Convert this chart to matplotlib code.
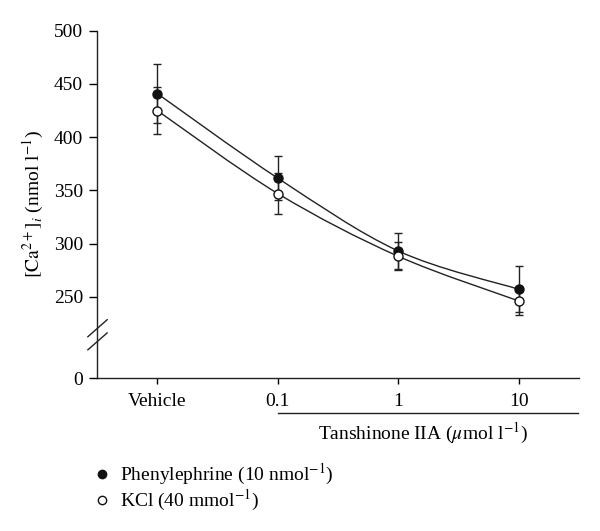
import numpy as np
import matplotlib.pyplot as plt
from matplotlib.path import Path
from matplotlib.patches import PathPatch
from matplotlib.lines import Line2D

plt.rcParams['font.family'] = 'Liberation Serif'
plt.rcParams['mathtext.fontset'] = 'stix'
plt.rcParams['font.size'] = 14

# Data
groups = ['Vehicle', '0.1', '1', '10']
phe_mean = [441, 361.5, 293, 257]
phe_err = [28, 21, 17, 21.5]
kcl_mean = [425, 347, 288, 246]
kcl_err = [22, 19.5, 13, 13]
yticks = [250, 300, 350, 400, 450, 500]
y_bottom = 173.5  # value shown as "0" below the axis break


def smooth_path(x, y):
    # Catmull-Rom style cubic bezier through the points
    x = np.asarray(x, float)
    y = np.asarray(y, float)
    verts = [(x[0], y[0])]
    codes = [Path.MOVETO]
    n = len(x)
    for i in range(n - 1):
        p0 = (x[max(i - 1, 0)], y[max(i - 1, 0)])
        p1 = (x[i], y[i])
        p2 = (x[i + 1], y[i + 1])
        p3 = (x[min(i + 2, n - 1)], y[min(i + 2, n - 1)])
        c1 = (p1[0] + (p2[0] - p0[0]) / 6, p1[1] + (p2[1] - p0[1]) / 6)
        c2 = (p2[0] - (p3[0] - p1[0]) / 6, p2[1] - (p3[1] - p1[1]) / 6)
        verts += [c1, c2, p2]
        codes += [Path.CURVE4] * 3
    return Path(verts, codes)


fig = plt.figure(figsize=(6, 5.31), dpi=100)
ax = fig.add_axes([0.1617, 0.288, 0.8033, 0.654])

x = np.arange(len(groups))

for mean in (phe_mean, kcl_mean):
    ax.add_patch(PathPatch(smooth_path(x, mean), fill=False, lw=1.0,
                           color='#222222', zorder=2))

ax.errorbar(x, phe_mean, yerr=phe_err, fmt='none', ecolor='#222222',
            elinewidth=1.0, capsize=3, capthick=1.0, zorder=1)
ax.errorbar(x, kcl_mean, yerr=kcl_err, fmt='none', ecolor='#222222',
            elinewidth=1.0, capsize=3, capthick=1.0, zorder=1)
ax.plot(x, phe_mean, 'o', ms=6.5, mfc='#111111', mec='#111111', zorder=4)
ax.plot(x, kcl_mean, 'o', ms=6.5, mfc='white', mec='#111111', mew=1.0, zorder=4)

ax.set_xlim(-0.5, 3.5)
ax.set_ylim(y_bottom, 500)
ax.set_xticks(x)
ax.set_xticklabels(groups)
ax.set_yticks([y_bottom] + yticks)
ax.set_yticklabels(['0'] + [str(v) for v in yticks])

for s in ['top', 'right']:
    ax.spines[s].set_visible(False)
for s in ['left', 'bottom']:
    ax.spines[s].set_linewidth(1.0)
    ax.spines[s].set_color('#222222')
ax.tick_params(axis='y', direction='out', length=6, width=1.0, pad=4)
ax.tick_params(axis='x', direction='out', length=4, width=1.0, pad=7)

ax.set_ylabel(r'$[\mathrm{Ca}^{2+}]_i$ (nmol l$^{-1}$)', labelpad=6)

# axis break marks
for y0, y1 in [(0.119, 0.168), (0.0814, 0.130)]:
    ax.add_line(Line2D([-0.019, 0.021], [y0, y1], transform=ax.transAxes,
                       color='#222222', lw=1.0, clip_on=False))

# bracket line under the Tanshinone IIA doses
fig.add_artist(Line2D([278 / 600, 578 / 600], [1 - 412.7 / 531, 1 - 412.7 / 531],
                      transform=fig.transFigure, color='#222222', lw=1.0))
fig.text(423 / 600, 1 - 433 / 531, r'Tanshinone IIA ($\mu$mol l$^{-1}$)',
         ha='center', va='center')

# legend
fig.add_artist(Line2D([101.7 / 600], [1 - 474 / 531], marker='o', ms=6,
                      mfc='#111111', mec='#111111', transform=fig.transFigure))
fig.add_artist(Line2D([101.7 / 600], [1 - 500 / 531], marker='o', ms=6,
                      mfc='white', mec='#111111', transform=fig.transFigure))
fig.text(120 / 600, 1 - 474 / 531, r'Phenylephrine (10 nmol$^{-1}$)', va='center')
fig.text(120 / 600, 1 - 500 / 531, r'KCl (40 mmol$^{-1}$)', va='center')

fig.savefig('out.png', dpi=100)
